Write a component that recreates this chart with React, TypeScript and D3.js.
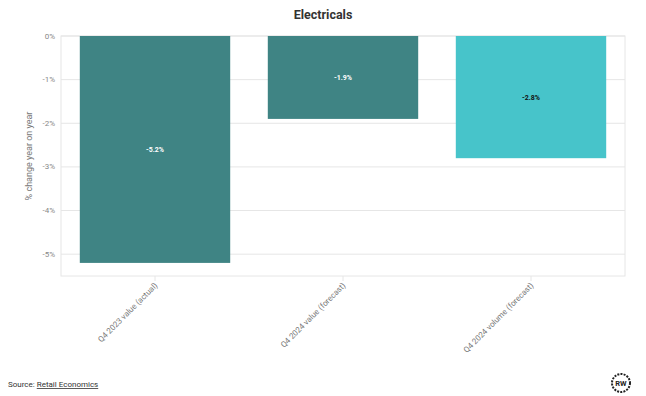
import React from "react";
import * as d3 from "d3";

const categories = ["Q4 2023 value (actual)", "Q4 2024 value (forecast)", "Q4 2024 volume (forecast)"];
const values = [-5.2, -1.9, -2.8];
const barColors = ["#3b8282", "#3b8282", "#43c3c9"];
const labelColors = ["#ffffff", "#ffffff", "#111111"];
const yTicks = [0, -1, -2, -3, -4, -5];

const W = 646, H = 396;
const M = { left: 61, right: 21, top: 36, bottom: 120 };

export default function App() {
  const x = d3.scaleBand<string>().domain(categories).range([M.left, W - M.right]).paddingInner(0.2).paddingOuter(0.1);
  const y = d3.scaleLinear().domain([-5.5, 0]).range([H - M.bottom, M.top]);
  const font = "Roboto, 'Open Sans', sans-serif";
  return (
    <svg width={W} height={H} style={{ position: "absolute", left: 0, top: 0, fontFamily: font }}>
      <rect width={W} height={H} fill="#fff" />
      <text x={323} y={19} textAnchor="middle" fontSize={12.5} fontWeight="bold" fill="#333">Electricals</text>
      {yTicks.map(t => (
        <g key={t}>
          <line x1={M.left} x2={W - M.right} y1={y(t)} y2={y(t)} stroke="#e6e6e6" />
          <text x={M.left - 6} y={y(t)} dy="0.32em" textAnchor="end" fontSize={8} fill="#888">{t}%</text>
        </g>
      ))}
      <rect x={M.left} y={M.top} width={W - M.left - M.right} height={H - M.bottom - M.top} fill="none" stroke="#e6e6e6" />
      {categories.map((c, i) => {
        const x0 = x(c)!;
        const bw = x.bandwidth();
        return (
          <g key={c}>
            <rect x={x0} y={y(0)} width={bw} height={y(values[i]) - y(0)} fill={barColors[i]} fillOpacity={0.98} />
            <text x={x0 + bw / 2} y={(y(0) + y(values[i])) / 2} dy="0.35em" textAnchor="middle" fontSize={7} fontWeight="bold" fill={labelColors[i]}>
              {values[i].toFixed(1)}%
            </text>
            <line x1={x0 + bw / 2} x2={x0 + bw / 2} y1={H - M.bottom} y2={H - M.bottom + 5} stroke="#e6e6e6" />
            <text transform={`translate(${x0 + bw / 2 + 3},${H - M.bottom + 10}) rotate(-45)`} textAnchor="end" fontSize={8} fill="#777">{c}</text>
          </g>
        );
      })}
      <text transform={`translate(32,${(M.top + H - M.bottom) / 2}) rotate(-90)`} textAnchor="middle" fontSize={9} fill="#777">% change year on year</text>
      <text x={8} y={387} fontSize={8} fill="#333">Source: <tspan textDecoration="underline">Retail Economics</tspan></text>
      <g transform="translate(621,383)">
        <circle r={9} fill="#fff" stroke="#222" strokeWidth={2} strokeDasharray="2 1.2" />
        <text textAnchor="middle" dy="0.35em" fontSize={7.5} fontWeight="bold" fill="#222">RW</text>
      </g>
    </svg>
  );
}
